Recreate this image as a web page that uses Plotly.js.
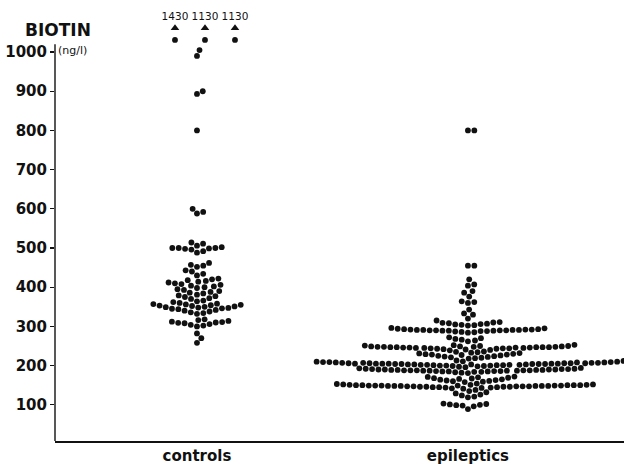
<!DOCTYPE html>
<html><head><meta charset="utf-8">
<script src="https://cdn.plot.ly/plotly-3.0.1.min.js"></script>
<style>html,body{margin:0;padding:0;background:#fff}#chart{width:624px;height:464px}</style>
</head><body><div id="chart"></div>
<script>
// ---- data (ng/l) ----
const categories = ['controls', 'epileptics'];
const controls = [
  1005, 990, 900, 893, 800, 600, 592, 588,
  514, 511, 506, 502, 500, 500, 500, 499, 498, 496, 492, 488,
  462, 457, 455, 452,
  443, 440, 434, 430,
  422, 420, 418, 416, 414, 412, 410, 408, 406, 404, 402, 400, 398,
  395, 393, 390, 388, 386, 384, 381, 379, 377, 375, 372, 370,
  366, 364, 362, 360, 358, 357, 356, 355, 354, 353, 352, 351, 350, 349, 348, 347, 346, 345, 344, 342, 340, 338, 336, 334, 332,
  318, 316, 314, 312, 311, 310, 309, 308, 306, 304, 302, 300,
  282, 270, 258
];
const controlsOffscale = [1430, 1130, 1130];
const epileptics = [
  800, 800, 455, 455,
  420, 407, 404, 390, 386, 376, 364, 362, 360, 343, 333, 330, 320, 315,
  311, 310, 309, 308, 307, 306, 305, 304, 303, 302,
  296, 295, 294, 293, 293, 292, 292, 292, 291, 291, 291, 291, 290, 290, 290, 290, 289, 289, 289, 288, 288, 287, 286, 285, 284,
  272, 270, 268, 266, 264, 262,
  253, 252, 251, 250, 250, 249, 249, 249, 248, 248, 248, 248, 247, 247, 247, 247, 247, 246, 246, 246, 246, 245, 245, 245, 244, 244, 244, 243, 243, 242, 241, 240, 239,
  236, 235, 234, 233, 232, 231, 230, 229, 228, 228, 227, 226, 225, 224, 223, 222, 221, 220, 219, 218,
  213, 212, 211, 210, 210, 209, 209, 209, 208, 208, 208, 207, 207, 207, 207, 206, 206, 206, 206, 206, 205, 205, 205, 205, 205,
  205, 204, 204, 204, 204, 204, 203, 203, 203, 203, 202, 202, 202, 202, 201, 201, 201, 200, 200, 200, 199, 199, 198, 197, 196,
  194, 193, 192, 192, 191, 191, 191, 190, 190, 190, 190, 189, 189, 189, 189, 188, 188, 188, 188, 188, 187, 187, 187, 187, 186,
  186, 186, 185, 185, 185, 184, 184, 183, 182, 181,
  172, 171, 170, 169, 168, 167, 166, 165, 164, 163, 162, 161, 160, 159, 158,
  154, 153, 152, 152, 151, 151, 151, 150, 150, 150, 150, 150, 149, 149, 149, 149, 149, 149, 148, 148, 148, 148, 148, 148,
  147, 147, 147, 147, 147, 146, 146, 146, 146, 145, 145, 145, 144, 144, 143, 142, 141,
  138, 135, 132, 129, 126, 124,
  121, 119,
  103, 102, 101, 100, 99, 98, 96, 89
];

// ---- geometry ----
const W = 624, H = 464;
const M = {l: 55, r: 0, t: 5, b: 23};
const xRange = [0.476, 2.576];
const yRange = [7.6, 1120];
const axisTop = 1020;
const pxX = (W - M.l - M.r) / (xRange[1] - xRange[0]);
const pxY = (H - M.t - M.b) / (yRange[1] - yRange[0]);
const DIAM = 6.4;

function swarm(vals) {
  const idx = vals.map((v, i) => i).sort((a, b) => vals[a] - vals[b]);
  const placed = [];
  const off = new Array(vals.length).fill(0);
  for (const i of idx) {
    const y = vals[i] * pxY;
    const cands = [0];
    const near = placed.filter(p => Math.abs(p.y - y) < DIAM);
    for (const p of near) {
      const dx = Math.sqrt(DIAM * DIAM - (p.y - y) * (p.y - y));
      cands.push(p.x + dx, p.x - dx);
    }
    cands.sort((a, b) => Math.abs(a) - Math.abs(b));
    let xx = 0;
    for (const c of cands) {
      if (near.every(p => (p.x - c) ** 2 + (p.y - y) ** 2 >= DIAM * DIAM - 0.01)) { xx = c; break; }
    }
    placed.push({x: xx, y: y});
    off[i] = xx;
  }
  return off;
}

const traces = [];
[controls, epileptics].forEach((vals, k) => {
  const off = swarm(vals);
  traces.push({
    type: 'scatter', mode: 'markers',
    x: off.map(o => (k + 1) + o / pxX), y: vals,
    marker: {color: '#111', size: 5.8},
    hoverinfo: 'y', showlegend: false
  });
});

// off-scale controls: dot at top, triangle and value above
const topDot = 1031, topTri = 1061;
const osX = controlsOffscale.map((v, i) => 1 + (-22 + i * 30) / pxX);
traces.push({type: 'scatter', mode: 'markers', x: osX, y: osX.map(() => topDot),
  marker: {color: '#111', size: 5.8}, showlegend: false, hoverinfo: 'skip'});
traces.push({type: 'scatter', mode: 'markers+text', x: osX, y: osX.map(() => topTri),
  marker: {color: '#111', size: 7.5, symbol: 'triangle-up'},
  text: controlsOffscale.map(String), textposition: 'top center',
  textfont: {family: 'DejaVu Sans', size: 10.5, color: '#111'},
  showlegend: false, hoverinfo: 'skip'});

const plotH = H - M.t - M.b, plotW = W - M.l - M.r;
const px2paperX = px => (px - M.l) / plotW;
const px2paperY = py => (H - M.b - py) / plotH;

const layout = {
  width: W, height: H, margin: M,
  paper_bgcolor: '#fff', plot_bgcolor: '#fff',
  font: {family: 'DejaVu Sans', color: '#111'},
  xaxis: {range: xRange, tickvals: [1, 2], ticktext: categories, ticks: '',
    showline: true, linecolor: '#111', linewidth: 1.6, showgrid: false, zeroline: false,
    tickfont: {family: 'DejaVu Sans', size: 15, weight: 'bold', color: '#111'}, fixedrange: true},
  yaxis: {range: yRange, tickvals: [100, 200, 300, 400, 500, 600, 700, 800, 900, 1000],
    ticks: 'outside', ticklen: 4, tickwidth: 1.3, tickcolor: '#111',
    showline: false, showgrid: false, zeroline: false,
    tickfont: {family: 'DejaVu Sans', size: 15, weight: 'bold', color: '#111'}, fixedrange: true},
  shapes: [
    {type: 'line', xref: 'paper', yref: 'y', x0: 0, x1: 0, y0: yRange[0], y1: axisTop,
      line: {color: '#111', width: 1.4}}
  ],
  annotations: [
    {text: 'BIOTIN', xref: 'paper', yref: 'paper', x: px2paperX(58), y: px2paperY(30), xanchor: 'center', yanchor: 'middle',
      showarrow: false, font: {family: 'DejaVu Sans', size: 17, weight: 'bold', color: '#111'}},
    {text: '(ng/l)', xref: 'paper', yref: 'paper', x: px2paperX(56), y: px2paperY(50), xanchor: 'left', yanchor: 'middle',
      showarrow: false, font: {family: 'DejaVu Sans', size: 11, color: '#111'}}
  ]
};
Plotly.newPlot('chart', traces, layout, {staticPlot: true});
</script></body></html>
